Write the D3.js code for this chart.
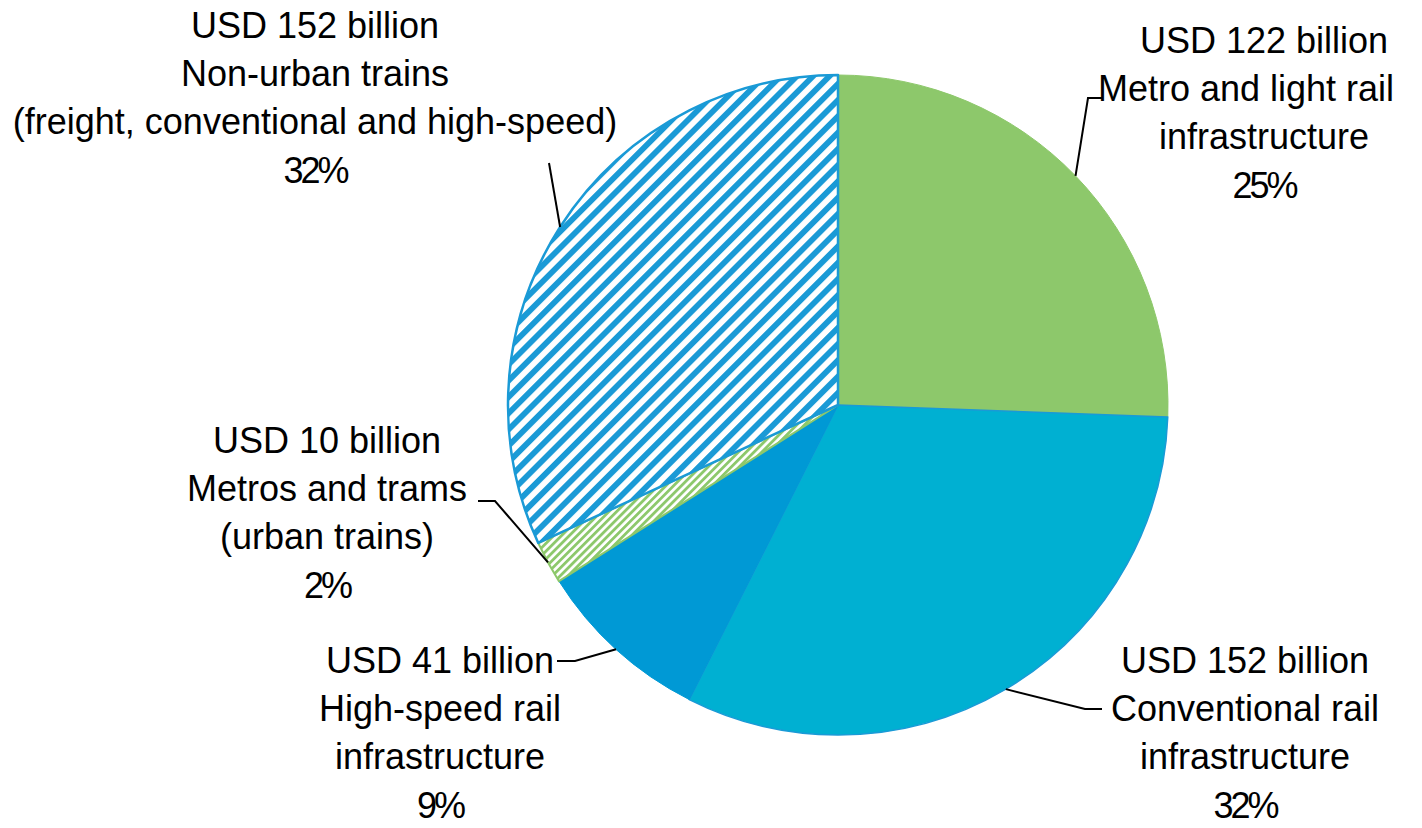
<!DOCTYPE html>
<html>
<head>
<meta charset="utf-8">
<script src="https://cdn.jsdelivr.net/npm/d3@7"></script>
<style>
  html, body { margin: 0; padding: 0; background: #fff; }
  svg { display: block; }
  text { font-family: "Liberation Sans", Arial, sans-serif; fill: #000; }
</style>
</head>
<body>
<svg id="chart" width="1422" height="828"></svg>
<script>
// Investment by segment, USD billion (clockwise from 12 o'clock)
const segments = [
  "Metro and light rail infrastructure",
  "Conventional rail infrastructure",
  "High-speed rail infrastructure",
  "Metros and trams (urban trains)",
  "Non-urban trains (freight, conventional and high-speed)"
];
const valuesUSD = [122, 152, 41, 10, 152];
const shareLabels = ["25%", "32%", "9%", "2%", "32%"];
const nameLines = [
  ["Metro and light rail", "infrastructure"],
  ["Conventional rail", "infrastructure"],
  ["High-speed rail", "infrastructure"],
  ["Metros and trams", "(urban trains)"],
  ["Non-urban trains", "(freight, conventional and high-speed)"]
];

const W = 1422, H = 828;
const cx = 838, cy = 405, R = 330;

const svg = d3.select("#chart");
const defs = svg.append("defs");

// Diagonal hatch fills
function hatch(id, color, period, stripe) {
  const p = defs.append("pattern")
    .attr("id", id)
    .attr("patternUnits", "userSpaceOnUse")
    .attr("width", period).attr("height", period)
    .attr("patternTransform", "rotate(45)");
  p.append("rect").attr("width", period).attr("height", period).attr("fill", "#fff");
  p.append("rect").attr("width", stripe).attr("height", period).attr("fill", color);
}
hatch("hatchBlue", "#1a9ad6", 11.5, 5.8);
hatch("hatchGreen", "#8dc86b", 5.5, 2.8);

const styles = [
  { fill: "#8dc86b", stroke: "#8dc86b", sw: 1 },
  { fill: "#00b0d2", stroke: "#1a9ad6", sw: 1.5 },
  { fill: "#0099d5", stroke: "#0099d5", sw: 1 },
  { fill: "url(#hatchGreen)", stroke: "#8dc86b", sw: 2 },
  { fill: "url(#hatchBlue)", stroke: "#1a9ad6", sw: 2.5 }
];

const pie = d3.pie().sort(null).value(d => d)(valuesUSD);
const arc = d3.arc().innerRadius(0).outerRadius(R);
const edgeArc = d3.arc().innerRadius(R).outerRadius(R);

const g = svg.append("g").attr("transform", `translate(${cx},${cy})`);
g.selectAll("path.slice")
  .data(pie)
  .join("path")
  .attr("class", "slice")
  .attr("d", arc)
  .attr("fill", (d, i) => styles[i].fill)
  .attr("stroke", (d, i) => styles[i].stroke)
  .attr("stroke-width", (d, i) => styles[i].sw)
  .attr("stroke-linejoin", "round");

// Label placement: text block centre, first line y, leader elbow and end
const labelLayout = [
  { x: 1264, y: 40, elbow: [1088, 98], end: [1103, 98], lineDx: [0, -18, 0, 0] },
  { x: 1245, y: 660, elbow: [1085, 709], end: [1102, 709] },
  { x: 440, y: 660, elbow: [575, 661], end: [557, 661] },
  { x: 327, y: 440, elbow: [495, 501], end: [478, 501] },
  { x: 315, y: 25, elbow: null, end: [549, 163] }
];
const lineGap = 48;

const labels = svg.append("g");
pie.forEach((d, i) => {
  const L = labelLayout[i];
  const [ex, ey] = edgeArc.centroid(d);
  const pts = [[cx + ex, cy + ey]];
  if (L.elbow) pts.push(L.elbow);
  pts.push(L.end);
  labels.append("path")
    .attr("d", d3.line()(pts))
    .attr("fill", "none")
    .attr("stroke", "#000")
    .attr("stroke-width", 2);

  const lines = [`USD ${valuesUSD[i]} billion`, ...nameLines[i], shareLabels[i]];
  lines.forEach((t, k) => {
    const isPct = k === lines.length - 1;
    labels.append("text")
      .attr("x", L.x + (L.lineDx ? L.lineDx[k] : 0))
      .attr("y", L.y + k * lineGap + (isPct ? 1 : 0))
      .attr("text-anchor", "middle")
      .attr("dominant-baseline", "central")
      .attr("font-size", 36)
      .attr("letter-spacing", isPct ? -3 : 0)
      .text(t);
  });
});
</script>
</body>
</html>
